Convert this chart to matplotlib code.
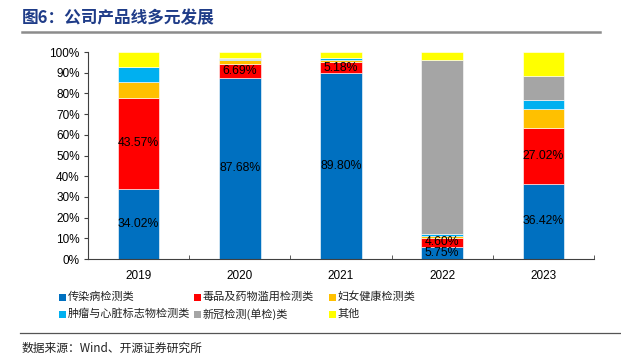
import matplotlib
matplotlib.use("Agg")
import matplotlib.pyplot as plt
from matplotlib.patches import Rectangle
from matplotlib.lines import Line2D
import numpy as np

years = ["2019", "2020", "2021", "2022", "2023"]
series_names = ["传染病检测类", "毒品及药物滥用检测类", "妇女健康检测类",
                "肿瘤与心脏标志物检测类", "新冠检测(单检)类", "其他"]
infect = [34.02, 87.68, 89.80, 5.75, 36.42]
drug = [43.57, 6.69, 5.18, 4.60, 27.02]
women = [7.8, 1.6, 1.1, 0.6, 8.9]
tumor = [7.5, 0.8, 0.8, 1.0, 4.5]
covid = [0.0, 0.3, 0.2, 84.4, 11.8]
other = [7.11, 2.93, 2.92, 3.65, 11.36]
labelled = [0, 1]
colors = ["#0070C0", "#FF0000", "#FFC000", "#00B0F0", "#A5A5A5", "#FFFF00"]

cjk = ['Noto Sans CJK SC', 'DejaVu Sans']
num_font = 'Liberation Sans'

W, H = 621, 361
fig = plt.figure(figsize=(W/100, H/100), dpi=100)
ax = fig.add_axes([88/W, 1-259/H, (594-88)/W, (259-52)/H])

data = [infect, drug, women, tumor, covid, other]
x = np.arange(len(years))
bottom = np.zeros(len(years))
for i, (vals, c) in enumerate(zip(data, colors)):
    vals = np.array(vals)
    ax.bar(x, vals, 0.41, bottom=bottom, color=c, edgecolor="white", linewidth=0.4, zorder=2)
    if i in labelled:
        for j, v in enumerate(vals):
            ax.text(x[j], bottom[j] + v/2, f"{v:.2f}%", ha="center", va="center",
                    fontsize=8.8, family=num_font, color="black", zorder=3)
    bottom += vals

ax.set_xlim(-0.5, 4.5)
ax.set_ylim(0, 100)
ax.set_yticks(np.arange(0, 101, 10))
ax.set_yticklabels([f"{v}%" for v in range(0, 101, 10)], family=num_font, fontsize=8.5)
ax.set_xticks(x)
ax.set_xticklabels(years, family=num_font, fontsize=8.5)
ax.tick_params(axis="x", length=0, pad=8)
ax.set_xticks(np.arange(-0.5, 5.0, 1.0), minor=True)
ax.tick_params(axis="x", which="minor", length=3, direction="in", color="#404040")
ax.tick_params(axis="y", length=3, direction="out", color="#404040", pad=3)
for s in ["top", "right"]:
    ax.spines[s].set_visible(False)
for s in ["left", "bottom"]:
    ax.spines[s].set_color("#404040")
    ax.spines[s].set_linewidth(0.8)

# legend (manual placement, 3 columns x 2 rows)
col_x = [59, 194, 329]
row_y = [297, 314]
for k, (name, c) in enumerate(zip(series_names, colors)):
    r, cidx = divmod(k, 3)
    mx, my = col_x[cidx], row_y[r]
    fig.add_artist(Rectangle((mx/W, 1-(my+3.5)/H), 7/W, 7/H, facecolor=c,
                             edgecolor="none", transform=fig.transFigure))
    fig.text((mx+9)/W, 1-my/H, name, family=cjk, fontsize=8, color="#222222",
             ha="left", va="center")

# title
fig.text(22/W, 1-18/H, "图6：公司产品线多元发展", family=cjk, fontsize=12,
         fontweight="bold", color="#1F3C88", ha="left", va="center")
fig.add_artist(Line2D([22/W, 600/W], [1-32/H, 1-32/H], color="#8C8C8C", linewidth=1.8))
fig.add_artist(Line2D([20/W, 1.0], [1-333/H, 1-333/H], color="#555555", linewidth=0.9))
fig.text(22/W, 1-348/H, "数据来源：Wind、开源证券研究所", family=cjk, fontsize=8.5,
         color="#222222", ha="left", va="center")

fig.savefig("out.png", dpi=100)
